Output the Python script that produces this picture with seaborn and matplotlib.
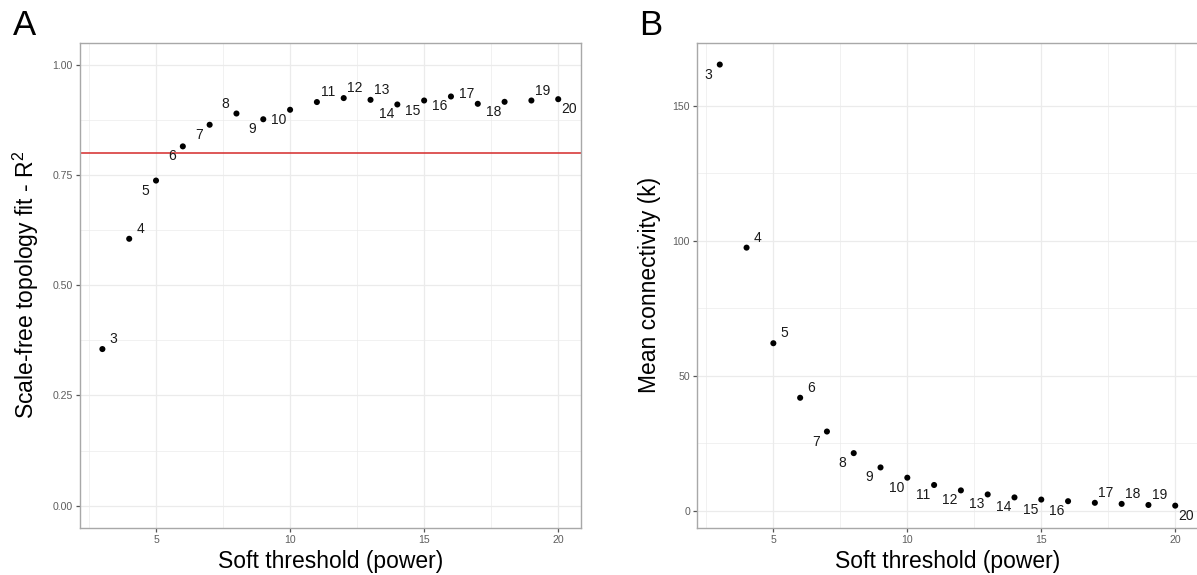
import matplotlib
matplotlib.use("Agg")
import matplotlib.pyplot as plt
import numpy as np
import pandas as pd
import seaborn as sns

# ---------------- data ----------------
powers = list(range(3, 21))
r2_fit = [0.355, 0.605, 0.737, 0.8145, 0.8635, 0.889, 0.876, 0.8975, 0.915,
          0.924, 0.920, 0.9095, 0.9185, 0.9276, 0.911, 0.9155, 0.9185, 0.9215]
mean_k = [165.2, 97.4, 62.0, 41.8, 29.3, 21.3, 16.0, 12.2, 9.5,
          7.5, 6.0, 4.9, 4.1, 3.5, 2.9, 2.5, 2.1, 1.85]
r2_cutoff = 0.80
x_ticks = [5, 10, 15, 20]
a_yticks = [0.00, 0.25, 0.50, 0.75, 1.00]
a_ytick_labels = ["0.00", "0.25", "0.50", "0.75", "1.00"]
b_yticks = [0, 50, 100, 150]
b_ytick_labels = ["0", "50", "100", "150"]
x_title = "Soft threshold (power)"
a_y_title = "Scale-free topology fit - R" + r"$^{\mathregular{2}}$"
b_y_title = "Mean connectivity (k)"
# label placement (up/down, left/right) around each point
label_pos_a = ['ur', 'ur', 'dl', 'dl', 'dl', 'ul', 'dl', 'dl', 'ur', 'ur', 'ur',
               'dl', 'dl', 'dl', 'ul', 'dl', 'ur', 'dr']
label_pos_b = ['dl', 'ur', 'ur', 'ur', 'dl', 'dl', 'dl', 'dl', 'dl', 'dl', 'dl',
               'dl', 'dl', 'dl', 'ur', 'ur', 'ur', 'dr']

df = pd.DataFrame({"power": powers, "r2": r2_fit, "k": mean_k})

# ---------------- style ----------------
sns.set_theme(style="white")
plt.rcParams["font.family"] = ["Liberation Sans", "DejaVu Sans"]
plt.rcParams["mathtext.fontset"] = "custom"
plt.rcParams["mathtext.rm"] = "Liberation Sans"

W, H = 1197, 575
fig = plt.figure(figsize=(W / 100, H / 100), dpi=100)
top_px, bot_px = 42.5, 527.7
axA = fig.add_axes([79.6 / W, 1 - bot_px / H, (581 - 79.6) / W, (bot_px - top_px) / H])
axB = fig.add_axes([697 / W, 1 - bot_px / H, (1198 - 697) / W, (bot_px - top_px) / H])

GRID = "#EBEBEB"
BORDER = "#A8A8A8"
TICKTXT = "#5E5E5E"


def style_axes(ax, yticks, ylabels, ylim):
    ax.set_xlim(2.15, 20.85)
    ax.set_ylim(*ylim)
    ax.set_xticks(x_ticks)
    ax.set_xticklabels([str(t) for t in x_ticks])
    ax.set_xticks([2.5, 7.5, 12.5, 17.5], minor=True)
    ax.set_yticks(yticks)
    ax.set_yticklabels(ylabels)
    ymin = [(yticks[i] + yticks[i + 1]) / 2 for i in range(len(yticks) - 1)]
    ax.set_yticks(ymin, minor=True)
    ax.grid(which="major", color=GRID, lw=0.9)
    ax.grid(which="minor", color=GRID, lw=0.5)
    ax.set_axisbelow(True)
    for s in ax.spines.values():
        s.set_color(BORDER)
        s.set_linewidth(1.0)
    ax.tick_params(which="major", length=3, width=0.9, color="#555555",
                   labelsize=7.6, labelcolor=TICKTXT, pad=2,
                   bottom=True, left=True)
    ax.tick_params(which="minor", length=0)
    ax.set_xlabel(x_title, fontsize=16.5, color="black", labelpad=4)


def add_labels(ax, xs, ys, pos):
    for x, y, p in zip(xs, ys, pos):
        dy = 10 if p[0] == 'u' else -10
        dx = 11 if p[1] == 'r' else -11
        ax.annotate(str(x), (x, y), xytext=(dx * 0.72, dy * 0.72),
                    textcoords="offset points", ha="center", va="center",
                    fontsize=10, color="#1A1A1A")


# Panel A
sns.scatterplot(data=df, x="power", y="r2", ax=axA, color="black",
                s=19, linewidth=0, edgecolor="none", legend=False)
axA.axhline(r2_cutoff, color="#D42A2A", lw=1.1)
style_axes(axA, a_yticks, a_ytick_labels, (-0.05, 1.05))
axA.set_ylabel(a_y_title, fontsize=16.5, color="black", labelpad=8)
add_labels(axA, powers, r2_fit, label_pos_a)

# Panel B
sns.scatterplot(data=df, x="power", y="k", ax=axB, color="black",
                s=19, linewidth=0, edgecolor="none", legend=False)
kr = max(mean_k) - min(mean_k)
style_axes(axB, b_yticks, b_ytick_labels,
           (min(mean_k) - 0.05 * kr, max(mean_k) + 0.05 * kr))
axB.set_ylabel(b_y_title, fontsize=16.5, color="black", labelpad=8)
add_labels(axB, powers, mean_k, label_pos_b)

fig.text(13 / W, 1 - 35 / H, "A", fontsize=25, va="baseline", ha="left", color="black")
fig.text(639 / W, 1 - 35 / H, "B", fontsize=25, va="baseline", ha="left", color="black")

fig.savefig("out.png", dpi=100)
